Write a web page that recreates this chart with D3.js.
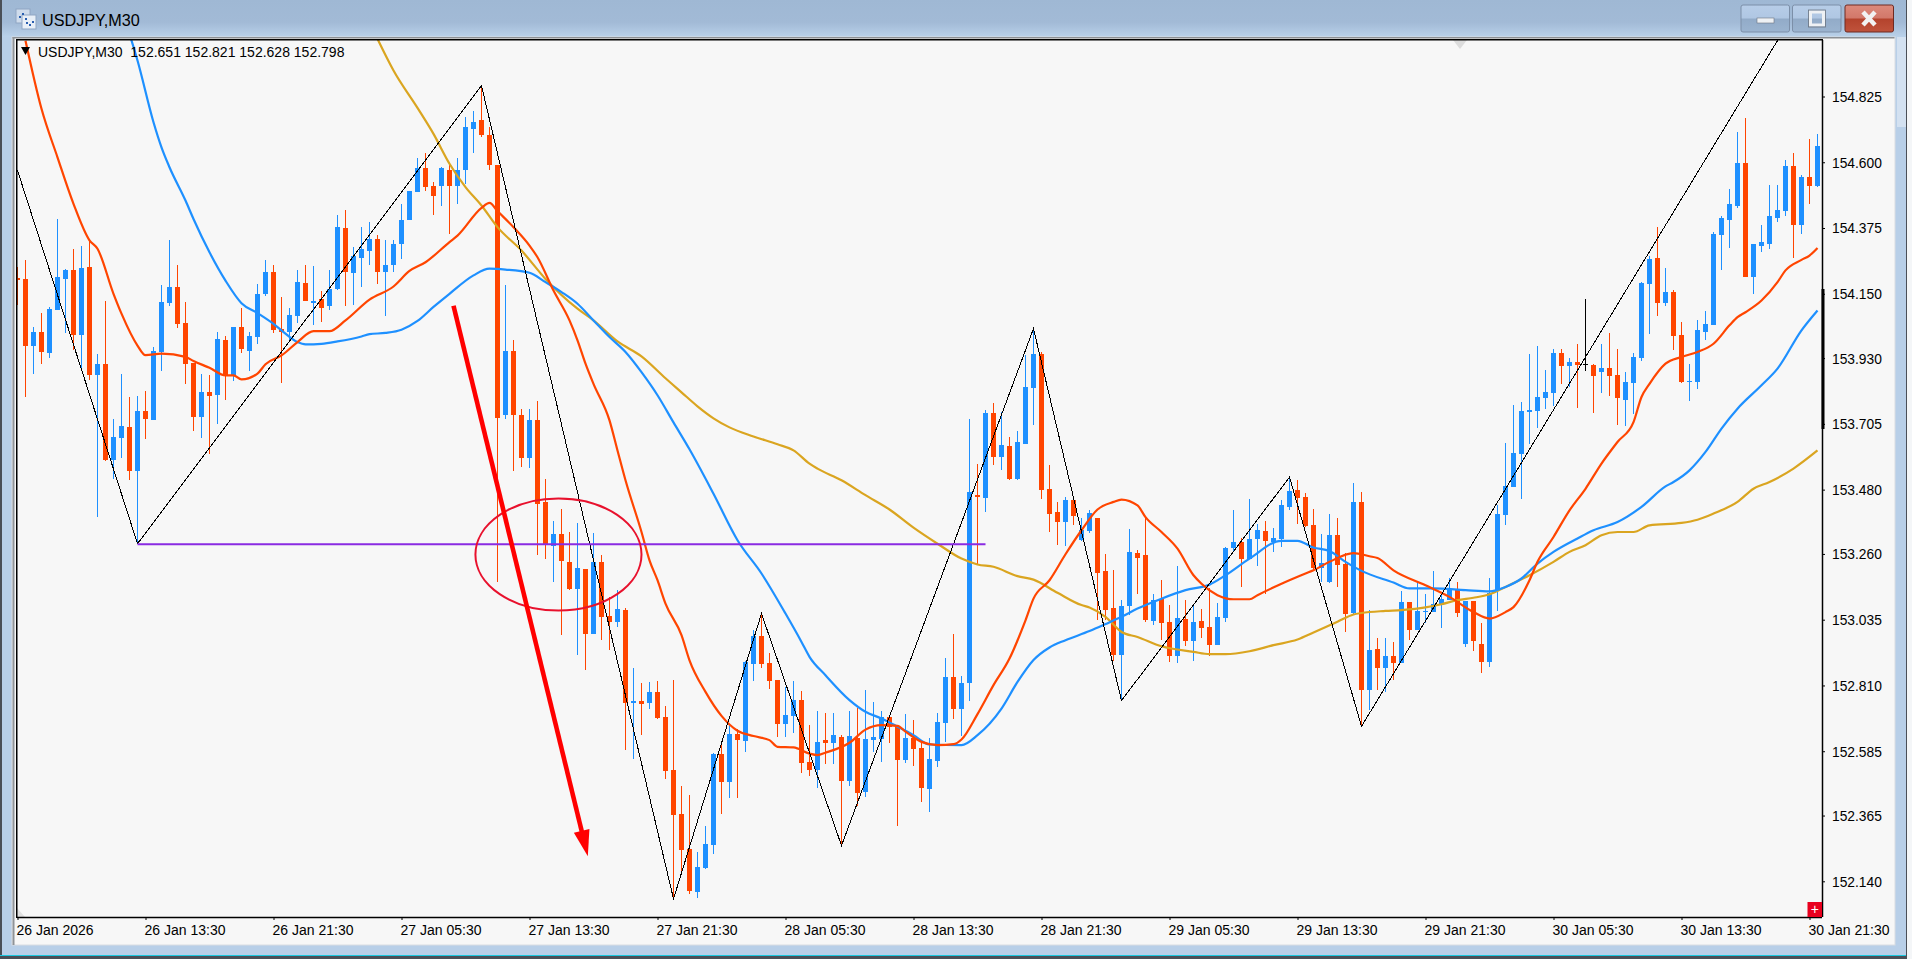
<!DOCTYPE html>
<html><head><meta charset="utf-8">
<script src="https://cdn.jsdelivr.net/npm/d3@7"></script>
<style>html,body{margin:0;padding:0;background:#b8cfe8;overflow:hidden}svg{display:block}
text{font-family:"Liberation Sans",Arial,sans-serif;fill:#000}</style></head>
<body><div id="chart"></div>
<script>
const symbol="USDJPY,M30";
const legendValues=["152.651","152.821","152.628","152.798"];
const priceTicks=[154.825,154.600,154.375,154.150,153.930,153.705,153.480,153.260,153.035,152.810,152.585,152.365,152.140];
const timeTickLabels=["26 Jan 2026","26 Jan 13:30","26 Jan 21:30","27 Jan 05:30","27 Jan 13:30","27 Jan 21:30","28 Jan 05:30","28 Jan 13:30","28 Jan 21:30","29 Jan 05:30","29 Jan 13:30","29 Jan 21:30","30 Jan 05:30","30 Jan 13:30","30 Jan 21:30"];
const barsPerTick=16;

const opens=[154.205,154.199,153.973,154.021,153.947,154.093,154.199,154.233,154.008,154.240,
153.871,153.909,153.580,153.656,153.693,153.543,153.748,153.717,153.950,154.117,
154.172,154.049,153.912,153.727,153.813,153.803,153.991,153.871,154.035,153.956,
154.001,154.148,154.226,154.028,154.021,154.073,154.186,154.117,154.131,154.107,
154.165,154.374,154.220,154.274,154.298,154.339,154.226,154.247,154.319,154.401,
154.497,154.582,154.520,154.520,154.575,154.520,154.572,154.715,154.743,154.692,
154.592,153.734,153.953,153.734,153.587,153.717,153.438,153.286,153.327,153.232,
153.139,153.208,152.985,153.232,153.047,153.026,153.067,152.750,152.756,152.750,
152.787,152.702,152.521,152.370,152.250,152.103,152.186,152.264,152.575,152.480,
152.644,152.620,152.883,152.979,152.886,152.828,152.678,152.705,152.760,152.548,
152.521,152.623,152.613,152.633,152.483,152.630,152.445,152.623,152.627,152.702,
152.671,152.555,152.630,152.596,152.456,152.551,152.681,152.839,152.729,152.818,
153.461,153.451,153.741,153.591,153.628,153.515,153.635,153.827,153.943,153.481,
153.403,153.368,153.444,153.307,153.338,153.382,153.201,153.074,152.914,153.081,
153.262,153.256,153.030,153.105,153.026,152.910,153.037,152.962,153.030,153.009,
152.948,153.040,153.279,153.300,153.242,153.310,153.338,153.300,153.310,153.421,
153.478,153.454,153.358,153.211,153.164,153.324,153.225,153.058,153.437,152.794,
152.934,152.869,152.910,152.886,153.095,152.999,153.062,153.061,153.086,153.102,
153.136,152.951,153.098,152.951,152.891,153.136,153.392,153.488,153.601,153.744,
153.748,153.792,153.809,153.946,153.902,153.915,153.911,153.908,153.881,153.895,
153.871,153.786,153.844,153.929,154.182,154.271,154.117,154.155,154.008,153.847,
153.847,154.021,154.042,154.350,154.401,154.452,154.599,154.209,154.315,154.319,
154.411,154.432,154.586,154.387,154.548,154.520];

const highs=[154.241,154.264,154.038,154.086,154.105,154.407,154.236,154.304,154.312,154.333,
153.943,154.127,153.721,153.874,153.796,153.799,153.816,153.968,154.179,154.333,
154.247,154.121,153.912,153.874,153.871,154.018,154.004,154.035,154.103,154.018,
154.182,154.264,154.250,154.138,154.103,154.233,154.250,154.244,154.158,154.230,
154.418,154.438,154.310,154.380,154.397,154.350,154.333,154.333,154.456,154.503,
154.613,154.633,154.533,154.585,154.595,154.613,154.754,154.777,154.862,154.722,
154.592,154.179,153.991,153.755,153.755,153.782,153.518,153.372,153.413,153.334,
153.365,153.208,153.331,153.256,153.113,153.136,153.074,152.869,152.817,152.821,
152.825,152.739,152.828,152.466,152.435,152.240,152.329,152.579,152.606,152.678,
152.661,152.894,152.999,153.054,152.921,152.828,152.804,152.825,152.791,152.674,
152.722,152.715,152.715,152.640,152.722,152.733,152.794,152.753,152.722,152.702,
152.674,152.712,152.692,152.616,152.630,152.715,152.903,152.986,152.842,153.721,
153.567,153.751,153.775,153.746,153.659,153.680,153.939,154.031,153.951,153.563,
153.437,153.454,153.444,153.382,153.410,153.382,153.259,153.204,153.102,153.344,
153.273,153.385,153.124,153.170,153.085,153.218,153.102,153.088,153.071,153.142,
153.091,153.284,153.409,153.316,153.447,153.364,153.372,153.348,153.444,153.523,
153.512,153.468,153.413,153.327,153.396,153.382,153.264,153.502,153.471,153.067,
152.972,152.972,152.958,153.133,153.095,153.159,153.122,153.201,153.124,153.176,
153.163,153.098,153.098,153.022,153.176,153.427,153.639,153.768,153.779,153.943,
153.970,153.888,153.960,153.960,153.932,153.977,154.131,153.911,153.977,154.015,
153.960,153.881,153.946,154.190,154.278,154.377,154.237,154.162,154.052,153.909,
154.062,154.090,154.363,154.415,154.510,154.705,154.753,154.322,154.384,154.521,
154.521,154.609,154.630,154.558,154.678,154.695];

const lows=[154.110,153.797,153.874,153.909,153.929,154.093,154.016,153.959,153.894,153.854,
153.387,153.577,153.517,153.587,153.512,153.295,153.652,153.717,153.885,154.107,
154.032,153.840,153.680,153.656,153.603,153.703,153.786,153.850,153.946,153.885,
153.977,154.141,154.016,153.844,153.991,154.049,154.127,154.042,154.052,154.093,
154.162,154.107,154.110,154.173,154.250,154.184,154.073,154.224,154.270,154.401,
154.497,154.503,154.418,154.452,154.355,154.456,154.527,154.630,154.688,154.575,
153.164,153.721,153.543,153.556,153.553,153.256,153.242,153.163,152.982,153.136,
152.914,152.862,152.985,152.965,152.931,153.009,152.589,152.558,152.640,152.731,
152.695,152.490,152.080,152.171,152.097,152.083,152.182,152.233,152.370,152.425,
152.425,152.582,152.825,152.869,152.797,152.633,152.633,152.647,152.510,152.500,
152.459,152.541,152.541,152.268,152.466,152.398,152.428,152.581,152.548,152.613,
152.329,152.544,152.534,152.411,152.377,152.531,152.616,152.695,152.637,152.758,
153.221,153.403,153.563,153.546,153.512,153.512,153.635,153.700,153.447,153.334,
153.290,153.286,153.358,153.305,153.331,153.033,153.033,152.894,152.756,153.050,
153.122,153.026,153.016,152.965,152.890,152.886,152.944,152.893,152.972,152.910,
152.975,153.028,153.266,153.147,153.242,153.218,153.124,153.266,153.284,153.410,
153.362,153.352,153.204,153.164,153.160,153.147,152.993,153.050,152.670,152.726,
152.794,152.787,152.828,152.886,152.965,152.999,153.022,153.062,153.006,153.102,
153.044,152.941,152.927,152.851,152.872,153.065,153.358,153.488,153.447,153.637,
153.690,153.755,153.765,153.840,153.831,153.758,153.885,153.741,153.809,153.799,
153.700,153.697,153.738,153.919,154.011,154.073,154.107,153.957,153.844,153.782,
153.823,153.991,154.042,154.233,154.305,154.442,154.206,154.151,154.292,154.302,
154.394,154.415,154.274,154.353,154.456,154.517];

const closes=[154.198,153.971,154.021,153.951,154.097,154.206,154.233,154.008,154.237,153.871,
153.909,153.580,153.659,153.697,153.543,153.748,153.721,153.956,154.121,154.172,
154.045,153.909,153.727,153.813,153.799,153.994,153.868,154.035,153.960,154.004,
154.151,154.223,154.025,154.021,154.076,154.189,154.127,154.127,154.100,154.168,
154.377,154.226,154.278,154.302,154.336,154.226,154.250,154.322,154.404,154.500,
154.582,154.514,154.486,154.582,154.520,154.572,154.722,154.739,154.692,154.592,
153.724,153.953,153.734,153.587,153.717,153.430,153.293,153.327,153.235,153.139,
153.211,152.985,153.232,153.044,153.026,153.071,152.750,152.756,152.746,152.787,
152.698,152.517,152.367,152.247,152.107,152.189,152.268,152.575,152.480,152.644,
152.623,152.890,152.979,152.883,152.825,152.678,152.709,152.760,152.544,152.521,
152.616,152.613,152.640,152.483,152.637,152.442,152.627,152.633,152.702,152.668,
152.555,152.630,152.592,152.459,152.558,152.685,152.839,152.729,152.818,153.471,
153.454,153.741,153.591,153.632,153.515,153.642,153.830,153.943,153.478,153.396,
153.368,153.444,153.389,153.341,153.399,153.194,153.067,152.914,153.081,153.266,
153.245,153.033,153.102,153.023,152.910,153.040,152.962,153.026,153.006,152.948,
153.043,153.279,153.300,153.242,153.310,153.341,153.303,153.314,153.427,153.474,
153.451,153.355,153.211,153.228,153.324,153.221,153.056,153.437,152.794,152.931,
152.869,152.910,152.886,153.095,152.999,153.064,153.064,153.088,153.105,153.136,
153.057,153.098,152.962,152.890,153.127,153.396,153.492,153.604,153.748,153.751,
153.796,153.813,153.946,153.902,153.915,153.905,153.911,153.868,153.895,153.868,
153.792,153.847,153.933,154.187,154.268,154.117,154.155,154.004,153.847,153.850,
154.025,154.045,154.353,154.408,154.456,154.596,154.209,154.319,154.326,154.415,
154.435,154.586,154.384,154.548,154.520,154.654];

// moving averages, read at the bars listed in the matching *Bars array
const maFastBars=[1,3,5,7,9,10,12,13,15,16,18,21,22,24,26,27,28,30,31,33,35,37,39,41,44,47,49,51,54,55,58,59,60,62,64,65,67,69,70,71,72,74,75,76,78,79,80,81,83,84,86,88,90,92,94,95,97,99,100,101,104,106,108,110,111,113,115,117,118,120,122,124,126,127,129,131,133,135,137,138,140,141,143,145,147,148,150,152,154,155,158,161,162,164,167,169,170,172,176,179,182,184,186,187,189,190,192,194,196,198,200,202,203,204,206,208,210,212,214,215,216,218,220,221,223,224,225];
const maFast=[155.016,154.783,154.617,154.458,154.333,154.304,154.150,154.082,153.973,153.940,153.945,153.934,153.920,153.897,153.871,153.871,153.857,153.877,153.909,153.939,153.985,154.022,154.022,154.059,154.130,154.175,154.228,154.258,154.327,154.349,154.444,154.461,154.433,154.378,154.315,154.275,154.161,154.059,153.991,153.911,153.842,153.717,153.614,153.512,153.335,153.238,153.170,153.090,152.982,152.896,152.788,152.706,152.655,152.637,152.623,152.600,152.598,152.577,152.572,152.580,152.614,152.659,152.674,152.672,152.652,152.617,152.606,152.609,152.625,152.712,152.811,152.902,153.033,153.107,153.170,153.259,153.341,153.412,153.438,153.446,153.426,153.386,153.335,153.278,153.187,153.158,153.119,153.105,153.105,153.119,153.158,153.193,153.204,153.233,153.263,153.252,153.246,153.204,153.153,153.113,153.061,153.039,153.061,153.078,153.170,153.233,153.318,153.409,153.483,153.569,153.643,153.711,153.797,153.842,153.911,153.934,153.951,153.979,154.042,154.070,154.087,154.127,154.190,154.230,154.266,154.281,154.307];

const maMidBars=[14,15,17,18,19,21,22,24,26,28,30,32,33,35,36,38,40,43,44,46,48,50,52,54,57,59,61,64,66,68,70,72,74,76,78,80,82,84,87,90,93,96,98,99,101,104,106,108,110,112,114,118,120,123,125,127,129,131,134,136,138,140,143,146,149,151,154,158,160,162,164,166,168,172,174,177,181,184,186,188,190,192,195,197,200,203,206,207,209,211,213,215,218,220,223,225];
const maMid=[155.039,154.948,154.737,154.651,154.583,154.469,154.406,154.292,154.195,154.118,154.084,154.047,154.025,153.985,153.977,153.979,153.987,154.004,154.012,154.016,154.027,154.057,154.105,154.150,154.213,154.236,154.233,154.222,154.190,154.156,154.116,154.059,154.002,153.951,153.882,153.803,153.710,153.618,153.466,153.307,153.193,153.056,152.959,152.908,152.845,152.760,152.720,152.697,152.669,152.640,152.608,152.606,152.640,152.731,152.822,152.897,152.940,152.965,152.996,153.020,153.045,153.073,153.107,153.136,153.155,153.187,153.244,153.305,153.305,153.282,153.270,153.233,153.202,153.162,153.142,153.142,153.136,153.132,153.147,153.176,153.227,153.267,153.313,153.341,153.369,153.421,153.491,153.506,153.546,153.609,153.689,153.757,153.837,153.894,154.025,154.093];

const maSlowBars=[45,47,50,52,54,56,58,60,63,66,70,72,75,78,81,83,85,87,89,92,95,97,99,100,103,106,109,112,115,118,120,122,125,127,130,133,134,136,138,140,143,147,149,151,154,157,160,162,165,167,168,171,173,176,178,180,182,184,186,189,192,194,196,198,200,202,204,208,210,212,215,217,219,222,225];
const maSlow=[155.022,154.914,154.786,154.697,154.595,154.515,154.452,154.378,154.298,154.201,154.099,154.059,153.987,153.936,153.861,153.813,153.765,153.724,153.693,153.662,153.635,153.6145,153.569,153.552,153.512,153.461,153.412,153.350,153.295,153.244,153.224,153.216,153.184,153.172,153.127,153.085,153.077,153.045,152.993,152.976,152.944,152.925,152.917,152.917,152.927,152.948,152.967,152.991,153.028,153.053,153.058,153.065,153.068,153.077,153.088,153.102,153.110,153.122,153.147,153.187,153.233,153.267,153.290,153.324,153.335,153.335,153.358,153.366,153.377,153.398,153.438,153.483,153.506,153.552,153.614];

const zigzagBars=[0,15,58,82,93,103,127,138,159,168,225];
const zigzagPrices=[154.572,153.295,154.862,152.080,153.056,152.262,154.031,152.758,153.523,152.670,155.242];

const levelBars=[15,121];
const levelPrice=153.293;
const arrowBars=[54.5,71.29];
const arrowPrices=[154.109,152.226];
const ellipseBar=67.62, ellipsePrice=153.258, ellipseBarRadius=10.38, ellipsePriceRadius=0.1916;

const BULL="#1E90FF",BEAR="#FF4500",GOLD="#DAA520",DOJI="#000";
const W=1912,H=959,L=17,R=1822,T=40,B=917;
const x=d3.scaleLinear().domain([0,225]).range([17.5,1817.5]);
const y=d3.scaleLinear().domain([152.14,154.825]).range([881.3,96.5]);

const svg=d3.select("#chart").append("svg").attr("width",W).attr("height",H).attr("viewBox",`0 0 ${W} ${H}`);
const defs=svg.append("defs");
const grad=(id,stops)=>{const g=defs.append("linearGradient").attr("id",id).attr("x1",0).attr("y1",0).attr("x2",0).attr("y2",1);
 stops.forEach(([o,c])=>g.append("stop").attr("offset",o).attr("stop-color",c));};
grad("title",[[0,"#9fb8d4"],[.6,"#a2bad6"],[1,"#b9d1ea"]]);
grad("btn",[[0,"#b7cde8"],[.48,"#b0c7e3"],[.52,"#92abc8"],[1,"#9bb4d0"]]);
grad("cls",[[0,"#dc8a7c"],[.48,"#d2786a"],[.52,"#b4432d"],[1,"#c0533c"]]);
defs.append("clipPath").attr("id","plot").append("rect").attr("x",L).attr("y",T).attr("width",R-L).attr("height",B-T);

// window frame
svg.append("rect").attr("width",W).attr("height",H).attr("fill","#b8cfe8");
svg.append("rect").attr("width",W).attr("height",37).attr("fill","url(#title)");
svg.append("rect").attr("x",0).attr("y",0).attr("width",2).attr("height",H).attr("fill","#4a4f57");
svg.append("rect").attr("x",1906).attr("y",0).attr("width",1).attr("height",H).attr("fill","#4a4f57");
svg.append("rect").attr("x",1907).attr("y",0).attr("width",5).attr("height",H).attr("fill","#f4f6f8");
svg.append("rect").attr("x",1897).attr("y",37).attr("width",9).attr("height",90).attr("fill","#d3e1f1");
svg.append("rect").attr("x",0).attr("y",955).attr("width",1906).attr("height",1).attr("fill","#19c8e0");
svg.append("rect").attr("x",0).attr("y",956).attr("width",1906).attr("height",3).attr("fill","#4a4f57");
svg.append("rect").attr("x",12).attr("y",37).attr("width",1883).attr("height",908).attr("fill","#f7f7f7").attr("stroke","#d9dde2").attr("stroke-width",1);
svg.append("rect").attr("x",12.5).attr("y",37).attr("width",1882).attr("height",1.5).attr("fill","#8b8f94");
svg.append("rect").attr("x",12.5).attr("y",37).attr("width",2).attr("height",908).attr("fill","#8f9398");

// title bar icon, title and buttons
const ic=svg.append("g");
ic.append("rect").attr("x",16).attr("y",9).attr("width",14).attr("height",14).attr("fill","#cfdcec").attr("stroke","#8fa6c3");
ic.append("rect").attr("x",22).attr("y",15).attr("width",14).attr("height",14).attr("fill","#e8eff7").attr("stroke","#8fa6c3");
ic.append("path").attr("d","M19 17h2M22 14h2M25 19h2M26 23h2M29 25h2M32 22h2").attr("stroke","#2a5fb0").attr("stroke-width",2);
svg.append("text").attr("x",42).attr("y",26).attr("font-size",16.2).text(symbol);
[[1741,"url(#btn)","#7c8fa8"],[1792.5,"url(#btn)","#7c8fa8"],[1845,"url(#cls)","#6e2a22"]].forEach(([bx,f,s])=>
 svg.append("rect").attr("x",bx).attr("y",5).attr("width",48.5).attr("height",27).attr("rx",2).attr("fill",f).attr("stroke",s));
svg.append("rect").attr("x",1757).attr("y",18).attr("width",17).attr("height",5).attr("fill","#eef1f4").attr("stroke","#6b7480").attr("stroke-width",.6);
svg.append("rect").attr("x",1810.5).attr("y",12).attr("width",13).attr("height",13).attr("fill","none").attr("stroke","#eef1f4").attr("stroke-width",3);
svg.append("rect").attr("x",1808.5).attr("y",10).attr("width",17).attr("height",17).attr("fill","none").attr("stroke","#6b7480").attr("stroke-width",.8);
svg.append("path").attr("d","M1863 12L1875 25M1875 12L1863 25").attr("stroke","#f2f2f2").attr("stroke-width",4.5);

// plot corner marks
svg.append("path").attr("d",`M${L} ${B-9}L${L+8} ${B}L${L} ${B}Z`).attr("fill","#e0e0e0");
svg.append("path").attr("d",`M1453 ${T}L1467 ${T}L1460 ${T+9}Z`).attr("fill","#dcdcdc");

// candles
const bars=d3.range(opens.length);
const plot=svg.append("g").attr("clip-path","url(#plot)");
const col=i=>closes[i]>opens[i]?BULL:(closes[i]<opens[i]?BEAR:DOJI);
const candles=plot.append("g").attr("shape-rendering","crispEdges").selectAll("g").data(bars).join("g");
candles.append("rect").attr("x",i=>x(i)-.5).attr("width",1)
 .attr("y",i=>y(highs[i])).attr("height",i=>Math.max(1,y(lows[i])-y(highs[i]))).attr("fill",col);
candles.append("rect").attr("x",i=>x(i)-2.5).attr("width",5)
 .attr("y",i=>Math.min(y(opens[i]),y(closes[i])))
 .attr("height",i=>Math.max(1,Math.abs(y(opens[i])-y(closes[i])))).attr("fill",col);

// moving averages
const line=d3.line().x(d=>x(d[0])).y(d=>y(d[1])).curve(d3.curveMonotoneX);
[[maSlowBars,maSlow,GOLD],[maMidBars,maMid,BULL],[maFastBars,maFast,BEAR]].forEach(([b,v,c])=>
 plot.append("path").attr("d",line(b.map((e,k)=>[e,v[k]]))).attr("fill","none").attr("stroke",c).attr("stroke-width",2.2));

// zigzag
plot.append("path").attr("d",d3.line().x(d=>x(d[0])).y(d=>y(d[1]))(zigzagBars.map((e,k)=>[e,zigzagPrices[k]])))
 .attr("fill","none").attr("stroke","#000").attr("stroke-width",1).attr("shape-rendering","crispEdges");

// horizontal level
plot.append("line").attr("x1",x(levelBars[0])).attr("x2",x(levelBars[1])).attr("y1",y(levelPrice)).attr("y2",y(levelPrice))
 .attr("stroke","#8A2BE2").attr("stroke-width",2);

// hand drawn ellipse and arrow
plot.append("ellipse").attr("cx",x(ellipseBar)).attr("cy",y(ellipsePrice))
 .attr("rx",x(ellipseBar+ellipseBarRadius)-x(ellipseBar)).attr("ry",y(ellipsePrice-ellipsePriceRadius)-y(ellipsePrice))
 .attr("fill","none").attr("stroke","#e8112d").attr("stroke-width",2);
const ax0=x(arrowBars[0]),ay0=y(arrowPrices[0]),ax1=x(arrowBars[1]),ay1=y(arrowPrices[1]);
const len=Math.hypot(ax1-ax0,ay1-ay0),ux=(ax1-ax0)/len,uy=(ay1-ay0)/len;
plot.append("line").attr("x1",ax0).attr("y1",ay0).attr("x2",ax1-ux*20).attr("y2",ay1-uy*20).attr("stroke","#ff0000").attr("stroke-width",4.6);
plot.append("path").attr("d",`M${ax1} ${ay1}L${ax1-ux*26-uy*8} ${ay1-uy*26+ux*8}L${ax1-ux*26+uy*8} ${ay1-uy*26-ux*8}Z`).attr("fill","#ff0000");

// axes
const axisRight=d3.axisRight(y).tickValues(priceTicks).tickSize(3).tickPadding(7).tickFormat(d3.format(".3f"));
const yg=svg.append("g").attr("transform",`translate(${R},0)`).call(axisRight);
yg.select(".domain").attr("d",`M0.5 ${T}V${B}`).attr("stroke","#000").attr("stroke-width",1.5);
yg.selectAll("text").attr("font-size",13.8).attr("font-family",'"Liberation Sans",Arial,sans-serif').attr("dy","0.36em");
yg.selectAll(".tick line").attr("stroke","#000");
svg.append("rect").attr("x",R-.5).attr("y",289).attr("width",3).attr("height",140).attr("fill","#000");

const tickBars=timeTickLabels.map((_,k)=>k*barsPerTick);
const axisBottom=d3.axisBottom(x).tickValues(tickBars).tickSize(3).tickPadding(5).tickFormat((d,k)=>timeTickLabels[k]);
const xg=svg.append("g").attr("transform",`translate(0,${B})`).call(axisBottom);
xg.select(".domain").attr("d",`M${L} 0.5H${R}`).attr("stroke","#000").attr("stroke-width",1.5);
xg.selectAll("text").attr("font-size",14).attr("text-anchor","start").attr("dx",-1.5)
 .attr("font-family",'"Liberation Sans",Arial,sans-serif');
xg.selectAll(".tick line").attr("stroke","#000");
svg.append("rect").attr("x",L-1).attr("y",T-1).attr("width",R-L+2).attr("height",1.5).attr("fill","#000");
svg.append("rect").attr("x",L-1).attr("y",T-1).attr("width",1.5).attr("height",B-T+2).attr("fill","#000");

// legend and one-click button
svg.append("path").attr("d","M21 47L30 47L25.5 55Z").attr("fill","#000");
svg.append("text").attr("x",38).attr("y",57).attr("font-size",14).attr("xml:space","preserve").text(`${symbol}  ${legendValues.join(" ")}`);
svg.append("rect").attr("x",1807.5).attr("y",902).attr("width",14.5).attr("height",15).attr("fill","#e8001e");
svg.append("text").attr("x",1814.8).attr("y",914).attr("font-size",14).attr("text-anchor","middle").style("fill","#fff").text("+");
</script></body></html>
